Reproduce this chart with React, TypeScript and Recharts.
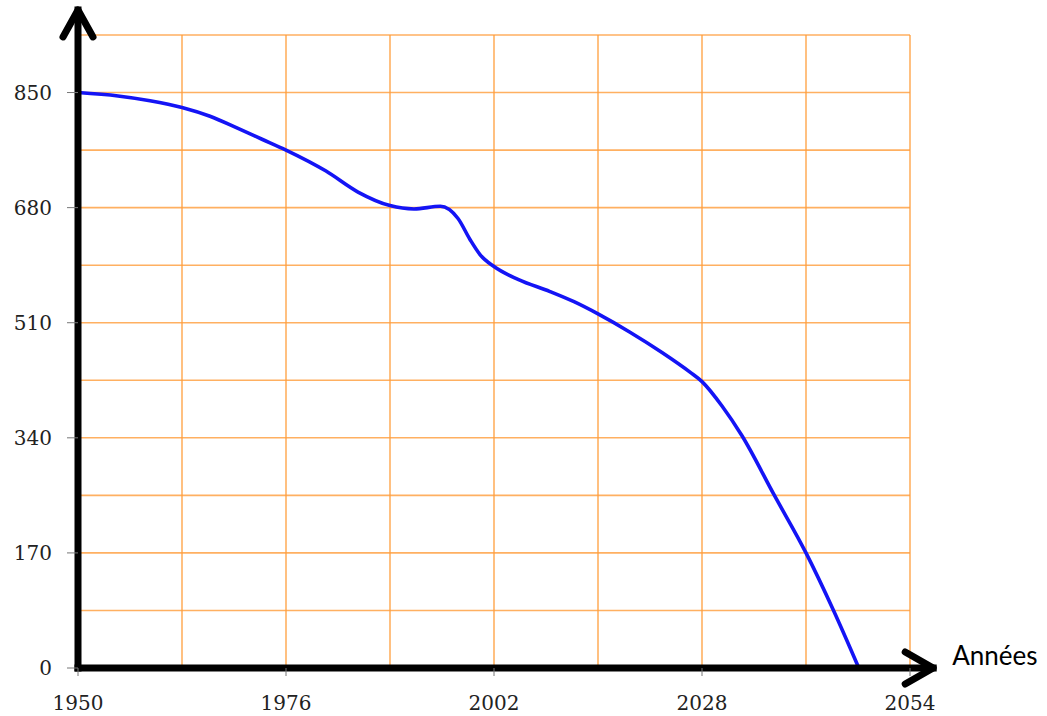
import React from 'react';
import { LineChart, Line, XAxis, YAxis, ReferenceLine } from 'recharts';

// values (années -> valeur)
const years = [
  1950, 1955, 1959, 1963, 1966.5, 1970, 1973, 1976, 1981, 1985, 1989, 1992, 1995.3, 1997.5,
  1999, 2000.3, 2002, 2005, 2009, 2012, 2015, 2019, 2023, 2026.5, 2028, 2030.5, 2033, 2037,
  2041, 2044.4, 2047.6,
];
const counts = [
  850, 845, 838, 828, 815, 797, 781, 765, 734, 703, 683, 678, 682, 664,
  633, 610, 593, 574, 556, 541, 523, 496, 466, 437, 423, 387, 343, 256,
  170, 86, 0,
];

const xTicks = [1950, 1976, 2002, 2028, 2054];
const yTicks = [0, 170, 340, 510, 680, 850];
const gridYears = [1963, 1976, 1989, 2002, 2015, 2028, 2041, 2054];
const gridValues = [85, 170, 255, 340, 425, 510, 595, 680, 765, 850, 935];

// where the axis arrows end
const xArrowEnd = 2056.9;
const yArrowEnd = 972;

const data = years.map((year, i) => ({ year, value: counts[i] }));

const tickStyle = { fontFamily: 'DejaVu Serif', fontSize: 20, fill: '#222' };

const AxisArrow = (props: any) => {
  const { x1, y1, x2, y2, vertical, label } = props;
  const head = vertical
    ? `M${x2 - 15},${y2 + 27} L${x2},${y2} L${x2 + 15},${y2 + 27}`
    : `M${x2 - 28},${y2 - 16} L${x2},${y2} L${x2 - 28},${y2 + 16}`;
  return (
    <g>
      <line x1={x1} y1={y1} x2={x2} y2={y2} stroke="#000" strokeWidth={7} strokeLinecap="square" />
      <path d={head} fill="none" stroke="#000" strokeWidth={7} strokeLinecap="round" strokeLinejoin="round" />
      {label && (
        <text x={x2 + 19} y={y2 - 3} fontFamily="Lato" fontSize={26} fill="#000">
          {label}
        </text>
      )}
    </g>
  );
};

export default function App() {
  return (
    <div style={{ position: 'absolute', left: 0, top: 0, background: '#fff' }}>
      <LineChart
        width={1047}
        height={716}
        data={data}
        margin={{ top: 35, right: 137, left: 18, bottom: 0 }}
      >
        <XAxis
          dataKey="year"
          type="number"
          domain={[1950, 2054]}
          ticks={xTicks}
          interval={0}
          height={48}
          tickSize={8}
          tickMargin={20}
          axisLine={false}
          tickLine={{ stroke: '#777' }}
          tick={tickStyle}
        />
        <YAxis
          type="number"
          domain={[0, 935]}
          ticks={yTicks}
          interval={0}
          width={60}
          tickSize={11}
          tickMargin={15}
          axisLine={false}
          tickLine={{ stroke: '#777' }}
          tick={tickStyle}
        />
        {gridYears.map((y) => (
          <ReferenceLine key={`gx-${y}`} x={y} stroke="#ff9c3a" strokeOpacity={0.8} strokeWidth={1.6} />
        ))}
        {gridValues.map((v) => (
          <ReferenceLine key={`gy-${v}`} y={v} stroke="#ff9c3a" strokeOpacity={0.8} strokeWidth={1.6} />
        ))}
        <Line
          type="monotone"
          dataKey="value"
          stroke="#1414f5"
          strokeWidth={3.6}
          dot={false}
          isAnimationActive={false}
        />
        <ReferenceLine
          segment={[{ x: 1950, y: 0 }, { x: 1950, y: yArrowEnd }]}
          ifOverflow="visible"
          shape={(p: any) => <AxisArrow {...p} vertical />}
        />
        <ReferenceLine
          segment={[{ x: 1950, y: 0 }, { x: xArrowEnd, y: 0 }]}
          ifOverflow="visible"
          shape={(p: any) => <AxisArrow {...p} label="Années" />}
        />
      </LineChart>
    </div>
  );
}
